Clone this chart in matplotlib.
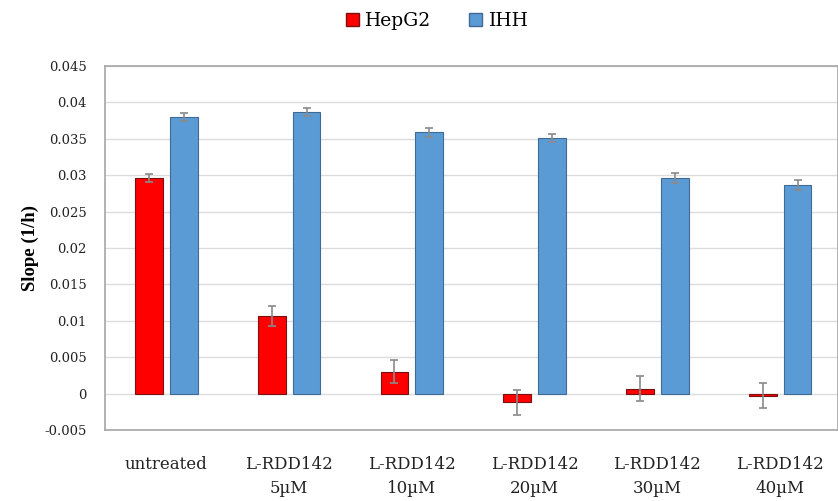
import matplotlib
matplotlib.use("Agg")
import matplotlib.pyplot as plt
import numpy as np
from matplotlib.patches import Patch

categories = ["untreated", "L-RDD142\n5\u00b5M", "L-RDD142\n10\u00b5M",
              "L-RDD142\n20\u00b5M", "L-RDD142\n30\u00b5M", "L-RDD142\n40\u00b5M"]
hepg2 = [0.0296, 0.0107, 0.0030, -0.0012, 0.0007, -0.0003]
hepg2_err = [0.0006, 0.0014, 0.0016, 0.0017, 0.0017, 0.0017]
ihh = [0.0380, 0.0387, 0.0359, 0.0351, 0.0296, 0.0287]
ihh_err = [0.0005, 0.0005, 0.0006, 0.0006, 0.0007, 0.0007]
yticks = [-0.005, 0, 0.005, 0.01, 0.015, 0.02, 0.025, 0.03, 0.035, 0.04, 0.045]
ytick_labels = ["-0.005", "0", "0.005", "0.01", "0.015", "0.02", "0.025",
                "0.03", "0.035", "0.04", "0.045"]

plt.rcParams['font.family'] = ['DejaVu Serif', 'Liberation Serif']

fig = plt.figure(figsize=(8.38, 5.01), dpi=100)
ax = fig.add_axes([105/838, 71/501, (838-105)/838, (430-66)/501])

x = np.arange(len(categories))
w = 0.227
off = 0.142
ax.bar(x - off, hepg2, w, color="#ff0000", edgecolor="#7a1010", linewidth=0.8, zorder=3)
ax.bar(x + off, ihh, w, color="#5b9bd5", edgecolor="#3e6a94", linewidth=0.8, zorder=3)
ax.errorbar(x - off, hepg2, yerr=hepg2_err, fmt="none", ecolor="#8a8a8a",
            elinewidth=1.2, capsize=3, capthick=1.2, zorder=4)
ax.errorbar(x + off, ihh, yerr=ihh_err, fmt="none", ecolor="#8a8a8a",
            elinewidth=1.2, capsize=3, capthick=1.2, zorder=4)

ax.set_ylim(-0.005, 0.045)
ax.set_xlim(-0.5, 5.5 - 3.5/123)
ax.set_yticks(yticks)
ax.set_yticklabels(ytick_labels, fontsize=9.5)
ax.set_xticks(x)
ax.set_xticklabels(categories, fontsize=12, linespacing=1.5)
ax.tick_params(axis="both", length=0, colors="#222222")
ax.tick_params(axis="y", pad=13)
ax.tick_params(axis="x", pad=19)
ax.yaxis.grid(True, color="#dcdcdc", linewidth=1, zorder=0)
ax.set_axisbelow(True)
for s in ax.spines.values():
    s.set_color("#a6a6a6")
    s.set_linewidth(1.2)

ax.set_ylabel("Slope (1/h)", fontsize=13.5, fontweight="bold", labelpad=4,
              family="Liberation Serif")

handles = [Patch(facecolor="#ff0000", edgecolor="#7a1010", label="HepG2"),
           Patch(facecolor="#5b9bd5", edgecolor="#3e6a94", label="IHH")]
fig.legend(handles=handles, loc="center", bbox_to_anchor=(437/838, 1 - 21/501),
           ncol=2, frameon=False, fontsize=13.5, handlelength=0.7, handleheight=0.7,
           handletextpad=0.35, columnspacing=2.0)

fig.savefig("out.png", dpi=100)
